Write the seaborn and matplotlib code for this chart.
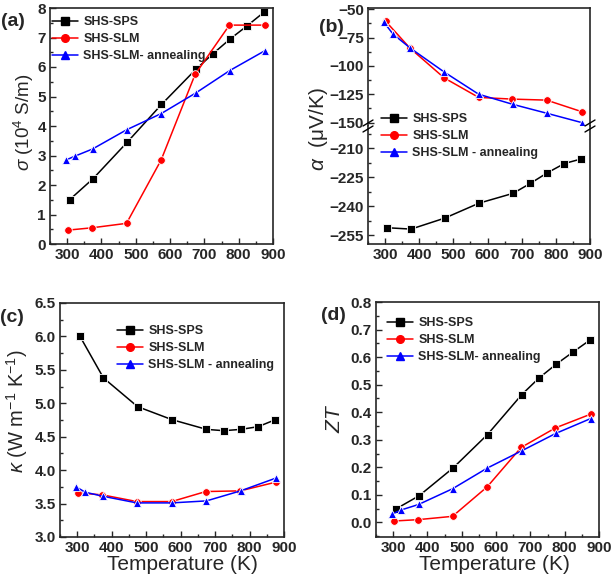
import numpy as np
import pandas as pd
import matplotlib
matplotlib.use("Agg")
import matplotlib.pyplot as plt
import seaborn as sns
from matplotlib.ticker import MultipleLocator, FormatStrFormatter
from matplotlib.lines import Line2D

# ---------------- data ----------------
T_sps = [307, 376, 475, 575, 675, 725, 775, 825, 875]
T_slm = [302, 373, 473, 574, 673, 773, 876]
T_ann = [297, 323, 374, 473, 574, 675, 774, 876]

sigma_sps = [1.50, 2.22, 3.45, 4.73, 5.92, 6.45, 6.95, 7.40, 7.87]
sigma_slm = [0.47, 0.55, 0.70, 2.85, 5.75, 7.42, 7.42]
sigma_ann = [2.85, 2.98, 3.22, 3.87, 4.42, 5.12, 5.88, 6.55]

alpha_sps = [-251.2, -251.9, -246.2, -238.5, -233.4, -228.3, -222.8, -218.0, -215.6]
alpha_slm = [-60.8, -84.4, -110.6, -127.8, -129.3, -130.2, -140.4]
alpha_ann = [-61.7, -71.9, -84.4, -105.4, -125.0, -134.0, -141.8, -150.0]

kappa_sps = [6.01, 5.38, 4.95, 4.755, 4.61, 4.59, 4.61, 4.65, 4.755]
kappa_slm = [3.66, 3.63, 3.53, 3.53, 3.68, 3.69, 3.82]
kappa_ann = [3.75, 3.67, 3.61, 3.51, 3.51, 3.54, 3.69, 3.88]

zt_sps = [0.048, 0.097, 0.198, 0.319, 0.464, 0.524, 0.574, 0.619, 0.663]
zt_slm = [0.005, 0.010, 0.022, 0.129, 0.272, 0.343, 0.393]
zt_ann = [0.030, 0.045, 0.065, 0.122, 0.197, 0.260, 0.323, 0.377]

lab_a = ["SHS-SPS", "SHS-SLM", "SHS-SLM- annealing"]
lab_b = ["SHS-SPS", "SHS-SLM", "SHS-SLM - annealing"]

colors = ["#000000", "#ff0000", "#0000ff"]
markers = ["s", "o", "^"]
MS = 5.5
LW = 1.1

# ---------------- style ----------------
sns.set_theme(style="ticks")
plt.rcParams["font.family"] = ["Liberation Sans", "DejaVu Sans"]
plt.rcParams["mathtext.fontset"] = "custom"
plt.rcParams["mathtext.rm"] = "Liberation Sans"
plt.rcParams["mathtext.it"] = "Liberation Sans:italic"
plt.rcParams["mathtext.bf"] = "Liberation Sans:bold"
plt.rcParams["axes.linewidth"] = 1.2

W, H = 614, 582
fig = plt.figure(figsize=(W / 100, H / 100), dpi=100)


def box(x0, y0, x1, y1):
    return [x0 / W, 1 - y1 / H, (x1 - x0) / W, (y1 - y0) / H]


def frame(T1, T2, T3, v1, v2, v3, labels):
    parts = []
    for T, v, n in zip((T1, T2, T3), (v1, v2, v3), labels):
        parts.append(pd.DataFrame({"T": T, "v": v, "s": n}))
    return pd.concat(parts, ignore_index=True)


def draw(ax, df, labels):
    sns.lineplot(data=df, x="T", y="v", hue="s", style="s", hue_order=labels,
                 style_order=labels, palette=colors, markers=markers, dashes=False,
                 estimator=None, sort=False, ax=ax, linewidth=LW, markersize=MS,
                 markeredgewidth=0.6, legend=False)


def style_ax(ax, ymaj, ymin, show_x=True, fmt=None):
    ax.set_xlim(250, 900)
    ax.xaxis.set_major_locator(MultipleLocator(100))
    ax.xaxis.set_minor_locator(MultipleLocator(50))
    ax.yaxis.set_major_locator(MultipleLocator(ymaj))
    ax.yaxis.set_minor_locator(MultipleLocator(ymin))
    if fmt:
        ax.yaxis.set_major_formatter(FormatStrFormatter(fmt))
    ax.tick_params(which="both", direction="in", top=False, right=False,
                   labelsize=11, width=1.0, pad=3)
    ax.tick_params(which="major", length=4)
    ax.tick_params(which="minor", length=2)
    for lab in ax.get_xticklabels() + ax.get_yticklabels():
        lab.set_fontweight("bold")
    if not show_x:
        ax.tick_params(axis="x", which="both", bottom=False, labelbottom=False)
    ax.set_xlabel("")
    ax.set_ylabel("")


def add_legend(ax, labels, x, y):
    handles = [Line2D([], [], color=c, marker=m, markersize=MS, linewidth=LW)
               for c, m in zip(colors, markers)]
    leg = ax.legend(handles, labels, loc="upper left",
                    bbox_to_anchor=(x / W, 1 - y / H), bbox_transform=fig.transFigure,
                    frameon=False, borderpad=0, borderaxespad=0, handlelength=2.1,
                    handletextpad=0.4, labelspacing=0.4,
                    prop={"weight": "bold", "size": 9})
    return leg


# ---------------- (a) ----------------
ax_a = fig.add_axes(box(50, 8, 273, 244))
draw(ax_a, frame(T_sps, T_slm, T_ann, sigma_sps, sigma_slm, sigma_ann, lab_a), lab_a)
ax_a.set_ylim(0, 8)
style_ax(ax_a, 1, 0.5)
add_legend(ax_a, lab_a, 52, 16)

# ---------------- (b) broken axis ----------------
ax_bt = fig.add_axes(box(368, 8, 590, 126))
ax_bb = fig.add_axes(box(368, 126, 590, 244))
df_b = frame(T_sps, T_slm, T_ann, alpha_sps, alpha_slm, alpha_ann, lab_b)
draw(ax_bt, df_b, lab_b)
draw(ax_bb, df_b, lab_b)
ax_bt.set_ylim(-153, -49)
ax_bb.set_ylim(-259.6, -198.6)
style_ax(ax_bt, 25, 12.5, show_x=False)
style_ax(ax_bb, 15, 7.5)
ax_bt.spines["bottom"].set_visible(False)
ax_bb.spines["top"].set_visible(False)
add_legend(ax_bb, lab_b, 381, 113)
# break marks
for xp in (368, 590):
    for dy in (-3, 3):
        fig.add_artist(Line2D([(xp - 5) / W, (xp + 5) / W],
                              [1 - (126 + dy + 3) / H, 1 - (126 + dy - 3) / H],
                              color="black", linewidth=1.0))

# ---------------- (c) ----------------
ax_c = fig.add_axes(box(60, 303, 284, 537))
draw(ax_c, frame(T_sps, T_slm, T_ann, kappa_sps, kappa_slm, kappa_ann, lab_b), lab_b)
ax_c.set_ylim(3.0, 6.5)
style_ax(ax_c, 0.5, 0.25, fmt="%.1f")
add_legend(ax_c, lab_b, 117, 325)

# ---------------- (d) ----------------
ax_d = fig.add_axes(box(376, 302, 599, 537))
draw(ax_d, frame(T_sps, T_slm, T_ann, zt_sps, zt_slm, zt_ann, lab_a), lab_a)
ax_d.set_ylim(-0.053, 0.8)
style_ax(ax_d, 0.1, 0.05, fmt="%.1f")
add_legend(ax_d, lab_a, 387, 317)

# ---------------- labels ----------------
def ftxt(x, y, s, **kw):
    fig.text(x / W, 1 - y / H, s, ha="center", va="center", **kw)

ftxt(24, 122, r"$\sigma$ (10$^{4}$ S/m)", rotation=90, fontsize=13.5)
ftxt(319, 129, r"$\alpha$  ($\mathrm{\mu}$V/K)", rotation=90, fontsize=15)
ftxt(17, 411, r"$\kappa$ (W m$^{-1}$ K$^{-1}$)", rotation=90, fontsize=14.5)
ftxt(335, 418, r"$ZT$", rotation=90, fontsize=15)
ftxt(182, 565, "Temperature (K)", fontsize=15)
ftxt(494, 565, "Temperature (K)", fontsize=15)

for s, x, y in (("(a)", 13, 22), ("(b)", 331, 27), ("(c)", 12, 318), ("(d)", 333, 316)):
    ftxt(x, y, s, fontsize=14, fontweight="bold")

fig.savefig("out.png", dpi=100)
